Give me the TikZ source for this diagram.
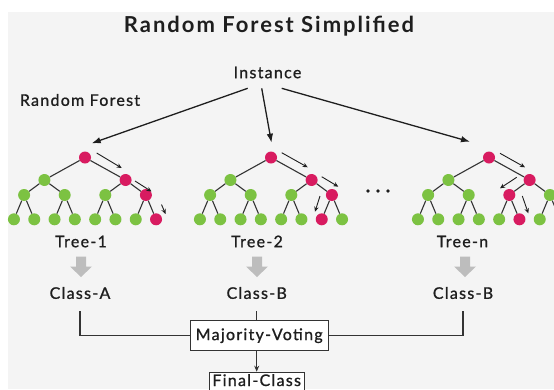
\documentclass[tikz,border=0pt]{standalone}
\usepackage{fontspec}
\setmainfont{Lato}
\newfontfamily\titlefont{Lato}[LetterSpace=9]
\newfontfamily\lblfont{Lato}[LetterSpace=8, FakeBold=1.0]
\usetikzlibrary{arrows.meta}
\definecolor{rfred}{HTML}{D81B60}
\definecolor{rfgreen}{HTML}{7CC242}
\definecolor{bgc}{HTML}{F4F4F4}
\definecolor{edgec}{HTML}{333333}
\definecolor{blockgray}{HTML}{BDBDBD}
\definecolor{txt}{HTML}{1E1E1E}
\tikzset{
  gnode/.style={circle, fill=rfgreen, inner sep=0pt, minimum size=12pt},
  rnode/.style={circle, fill=rfred, inner sep=0pt, minimum size=12pt},
  tedge/.style={draw=edgec, line width=1.1pt},
  patharrow/.style={-{Stealth[length=5pt,width=4.5pt]}, line width=0.9pt, txt},
  instarrow/.style={-{Latex[length=9pt,width=6.5pt]}, line width=1.3pt, txt},
  lbl/.style={font=\lblfont\fontsize{16}{18}\selectfont, text=txt, inner sep=0pt},
  boxn/.style={draw=edgec, fill=white, line width=1pt, font=\lblfont\fontsize{16}{18}\selectfont, text=txt},
  conn/.style={draw=edgec, line width=1.2pt},
  blockarrow/.style={fill=blockgray}
}
\newcommand\rftree[3]{%
  \foreach \c in {#3}{\expandafter\gdef\csname rfred#1x\c\endcsname{}}%
  \foreach \n/\y in {1/157.5, 2/180, 4/195, 8/219.3}{%
    \foreach \k in {1,...,\n}{%
      \pgfmathtruncatemacro\h{\n+\k-1}%
      \pgfmathsetmacro\x{#2+(\k-1-(\n-1)/2)*162.4/\n}%
      \ifcsname rfred#1x\h\endcsname\def\st{rnode}\else\def\st{gnode}\fi
      \node[\st] (#1-\h) at (\x,\y) {};
    }%
  }%
  \foreach \h in {2,...,15}{%
    \pgfmathtruncatemacro\p{floor(\h/2)}%
    \draw[tedge] (#1-\p) -- (#1-\h);
  }%
}
\newcommand\blockdown[2]{%
  \fill[blockgray] (#1-5,#2) -- (#1+5,#2) -- (#1+5,#2+10) -- (#1+11,#2+10)
    -- (#1,#2+20.5) -- (#1-11,#2+10) -- (#1-5,#2+10) -- cycle;
}
\begin{document}
\begin{tikzpicture}[x=1pt,y=-1pt]
\useasboundingbox (0,0) rectangle (554,389);
\clip (0,0) rectangle (554,389);
\fill[bgc] (8,12) rectangle (554,389);

% title and labels
\node[inner sep=0pt, text=txt, font=\titlefont\bfseries\fontsize{22}{24}\selectfont] (title) at (269,26) {Random Forest Simplified};
\node[lbl] (inst) at (267.5,72.5) {Instance};
\node[lbl] (rf) at (80,100) {Random Forest};

% trees
\rftree{t1}{85}{1,3,7,15}
\rftree{t2}{271}{1,3,7,14}
\rftree{tn}{489}{1,3,6,13}

% dots
\foreach \i/\xx in {1/368,2/378,3/388}{\fill[txt] (\xx,191) circle (1.8pt);}

% instance arrows
\coordinate (s1) at (247.7,88.3);
\coordinate (s2) at (261.7,88.3);
\coordinate (s3) at (281.7,88.3);
\coordinate (e1) at (91.7,143.3);
\coordinate (e2) at (271.5,142.7);
\coordinate (e3) at (470,141.7);
\draw[instarrow] (s1) -- (e1);
\draw[instarrow] (s2) -- (e2);
\draw[instarrow] (s3) -- (e3);

% path arrows
\draw[patharrow] (96.7,153) -- (121.7,168);
\draw[patharrow] (135,181) -- (151.5,191.5);
\draw[patharrow] (161.5,204.5) -- (165.5,214);
\draw[patharrow] (281.7,152.7) -- (307.7,167.3);
\draw[patharrow] (321.7,176.7) -- (338.3,186.7);
\draw[patharrow] (320,196) -- (315,211.7);
\draw[patharrow] (500,153.3) -- (525,167.3);
\draw[patharrow] (516.7,177.3) -- (500,188.3);
\draw[patharrow] (522.3,196) -- (528.3,213.3);

% tree labels
\node[lbl] (l1) at (81,241.5) {Tree-1};
\node[lbl] (l2) at (257,241.5) {Tree-2};
\node[lbl] (ln) at (462.5,241.5) {Tree-n};

\blockdown{81}{256.5}
\blockdown{257}{256.5}
\blockdown{465}{256.5}

\node[lbl] (c1) at (80,293) {Class-A};
\node[lbl] (c2) at (256.7,293) {Class-B};
\node[lbl] (cn) at (463,293) {Class-B};

% voting
\node[boxn, minimum width=138pt, minimum height=30pt, inner sep=0pt] (mv) at (259.2,335.7) {Majority-Voting};
\node[boxn, minimum width=95pt, minimum height=32pt, inner sep=0pt, anchor=north] (fc) at (256.7,371.7) {};
\node[lbl, anchor=base] (fct) at (256.7,386) {Final-Class};

\draw[conn] ([yshift=-12pt]c1.south) |- (mv.west);
\draw[conn] ([yshift=-12pt]cn.south) |- (mv.east);
\draw[conn] ([yshift=-12pt]c2.south) -- (c2.south |- mv.north);
\draw[conn, -{Stealth[length=6pt,width=5pt]}] (fc.north |- mv.south) -- (fc.north);
\end{tikzpicture}
\end{document}
